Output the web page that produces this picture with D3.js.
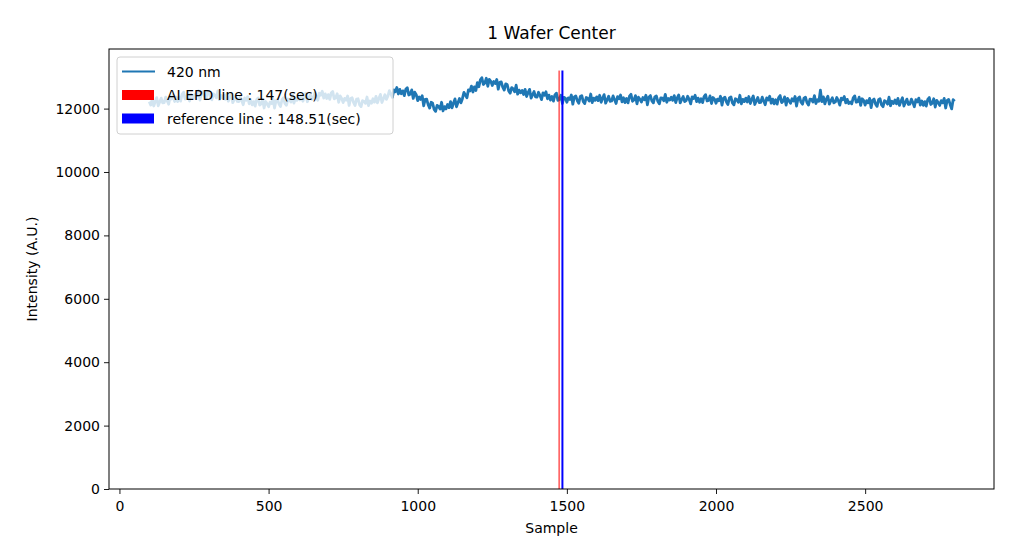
<!DOCTYPE html>
<html lang="en-US">
<head>
<meta charset="utf-8">
<style>
  body { margin: 0; background: #fff; }
  svg text { font-family: "DejaVu Sans", sans-serif; fill: #000; }
</style>
</head>
<body>
<div id="chart"></div>
<script src="https://cdnjs.cloudflare.com/ajax/libs/d3/7.8.5/d3.min.js"></script>
<script>
// intensity at 420 nm, one reading every 5 samples from sample 100 (10 readings per row)
var firstSample = 100;
var sampleStep = 5;
var intensity = [
  12220, 12111, 12292, 12083, 12224, 12346, 12087, 12208, 12329, 12180,
  12190, 12359, 12248, 12137, 12366, 12304, 12433, 12222, 12361, 12220,
  12370, 12236, 12451, 12517, 12302, 12348, 12493, 12239, 12454, 12390,
  12320, 12462, 12414, 12557, 12269, 12501, 12533, 12386, 12308, 12520,
  12540, 12344, 12279, 12463, 12428, 12342, 12557, 12281, 12416, 12340,
  12420, 12294, 12459, 12233, 12358, 12462, 12187, 12291, 12396, 12230,
  12220, 12374, 12249, 12123, 12338, 12262, 12377, 12151, 12276, 12120,
  12220, 12076, 12281, 12337, 12112, 12148, 12283, 12019, 12224, 12150,
  12060, 12204, 12159, 12303, 12018, 12252, 12287, 12141, 12066, 12280,
  12340, 12158, 12106, 12303, 12281, 12209, 12437, 12174, 12322, 12260,
  12390, 12274, 12449, 12233, 12368, 12482, 12217, 12331, 12446, 12290,
  12330, 12494, 12379, 12263, 12488, 12422, 12547, 12331, 12466, 12320,
  12440, 12290, 12490, 12540, 12310, 12340, 12470, 12200, 12400, 12320,
  12190, 12322, 12264, 12397, 12099, 12321, 12343, 12186, 12098, 12300,
  12310, 12121, 12062, 12253, 12224, 12165, 12366, 12097, 12239, 12170,
  12310, 12203, 12387, 12180, 12323, 12447, 12190, 12313, 12437, 12290,
  12390, 12564, 12459, 12353, 12588, 12532, 12667, 12461, 12606, 12470,
  12560, 12410, 12610, 12660, 12430, 12460, 12590, 12320, 12520, 12440,
  12250, 12364, 12289, 12403, 12088, 12292, 12297, 12121, 12016, 12200,
  12170, 11977, 11913, 12100, 12067, 11983, 12200, 11927, 12063, 11990,
  12130, 12031, 12222, 12023, 12174, 12306, 12057, 12188, 12319, 12180,
  12320, 12513, 12427, 12340, 12593, 12557, 12710, 12523, 12687, 12570,
  12820, 12688, 12906, 12973, 12761, 12809, 12957, 12704, 12922, 12860,
  12730, 12856, 12791, 12917, 12612, 12828, 12843, 12679, 12584, 12780,
  12760, 12558, 12486, 12663, 12621, 12529, 12737, 12454, 12582, 12500,
  12570, 12443, 12607, 12380, 12503, 12607, 12330, 12433, 12537, 12370,
  12360, 12516, 12411, 12283, 12496, 12418, 12531, 12309, 12424, 12270,
  12380, 12236, 12431, 12487, 12258, 12294, 12421, 12160, 12356, 12330,
  12200, 12340, 12290, 12430, 12140, 12370, 12400, 12250, 12170, 12380,
  12410, 12220, 12160, 12350, 12320, 12240, 12460, 12190, 12330, 12260,
  12370, 12250, 12420, 12200, 12330, 12440, 12170, 12280, 12390, 12230,
  12240, 12400, 12280, 12160, 12380, 12310, 12430, 12210, 12340, 12190,
  12320, 12180, 12390, 12450, 12230, 12270, 12410, 12150, 12360, 12290,
  12210, 12350, 12280, 12420, 12120, 12360, 12410, 12240, 12180, 12370,
  12400, 12230, 12150, 12340, 12330, 12250, 12450, 12200, 12320, 12270,
  12360, 12260, 12410, 12190, 12340, 12430, 12180, 12290, 12380, 12220,
  12250, 12390, 12290, 12150, 12370, 12320, 12420, 12220, 12330, 12200,
  12310, 12190, 12380, 12440, 12240, 12260, 12400, 12160, 12350, 12300,
  12170, 12300, 12250, 12390, 12110, 12330, 12360, 12210, 12130, 12340,
  12370, 12180, 12120, 12310, 12280, 12200, 12420, 12150, 12290, 12220,
  12330, 12210, 12380, 12160, 12290, 12400, 12130, 12240, 12350, 12190,
  12200, 12360, 12240, 12120, 12340, 12270, 12390, 12170, 12300, 12150,
  12280, 12140, 12350, 12410, 12190, 12230, 12370, 12110, 12320, 12250,
  12170, 12310, 12240, 12380, 12080, 12320, 12370, 12200, 12140, 12330,
  12360, 12190, 12110, 12300, 12290, 12210, 12410, 12160, 12280, 12230,
  12580, 12220, 12370, 12150, 12300, 12390, 12140, 12250, 12340, 12180,
  12210, 12350, 12250, 12110, 12330, 12280, 12380, 12180, 12290, 12160,
  12210, 12150, 12340, 12400, 12200, 12220, 12360, 12100, 12310, 12260,
  12110, 12250, 12180, 12320, 12030, 12260, 12300, 12140, 12070, 12280,
  12310, 12120, 12060, 12250, 12220, 12140, 12360, 12090, 12230, 12160,
  12270, 12150, 12320, 12100, 12230, 12340, 12080, 12190, 12300, 12130,
  12140, 12300, 12190, 12060, 12280, 12210, 12330, 12110, 12240, 12100,
  12220, 12080, 12290, 12350, 12130, 12170, 12310, 12050, 12260, 12190,
  12100, 12250, 12180, 12320, 12020, 12260, 12290, 12130, 11990, 12280,
  12230
];
var epdLine = { sample: 1474, top: 13200, label: "AI EPD line : 147(sec)", color: "#ff0000" };
var refLine = { sample: 1485.1, top: 13200, label: "reference line : 148.51(sec)", color: "#0000ff" };
var seriesLabel = "420 nm";
var xTicks = [0, 500, 1000, 1500, 2000, 2500];
var yTicks = [0, 2000, 4000, 6000, 8000, 10000, 12000];

var W = 1017, H = 551;
var pLeft = 109, pRight = 994, pTop = 49, pBottom = 489;

var svg = d3.select("#chart").append("svg").attr("width", W).attr("height", H);

var x = d3.scaleLinear().domain([-35, 2932]).range([pLeft, pRight]);
var y = d3.scaleLinear().domain([0, 13880]).range([pBottom, pTop]);

var points = intensity.map(function (v, i) { return [firstSample + i * sampleStep, v]; });

var plot = svg.append("g");
plot.append("path")
  .datum(points)
  .attr("d", d3.line().x(function (d) { return x(d[0]); }).y(function (d) { return y(d[1]); }))
  .attr("fill", "none")
  .attr("stroke", "#1f77b4")
  .attr("stroke-width", 2.8)
  .attr("stroke-linejoin", "round");

plot.append("line")
  .attr("x1", x(epdLine.sample)).attr("x2", x(epdLine.sample))
  .attr("y1", y(0)).attr("y2", y(epdLine.top))
  .attr("stroke", epdLine.color).attr("stroke-width", 1);
plot.append("line")
  .attr("x1", x(refLine.sample)).attr("x2", x(refLine.sample))
  .attr("y1", y(0)).attr("y2", y(refLine.top))
  .attr("stroke", refLine.color).attr("stroke-width", 2);

// axes
var xAxis = svg.append("g").attr("transform", "translate(0," + pBottom + ")")
  .call(d3.axisBottom(x).tickValues(xTicks).tickSize(5).tickPadding(4).tickFormat(d3.format("d")));
var yAxis = svg.append("g").attr("transform", "translate(" + pLeft + ",0)")
  .call(d3.axisLeft(y).tickValues(yTicks).tickSize(5).tickPadding(4).tickFormat(d3.format("d")));
[xAxis, yAxis].forEach(function (g) {
  g.select(".domain").remove();
  g.selectAll("text").style("font-size", "14px").attr("fill", "#000");
  g.selectAll("line").attr("stroke", "#000").attr("stroke-width", 0.9);
});
xAxis.selectAll("text").attr("dy", "0.9em");

svg.append("rect")
  .attr("x", pLeft).attr("y", pTop)
  .attr("width", pRight - pLeft).attr("height", pBottom - pTop)
  .attr("fill", "none").attr("stroke", "#000").attr("stroke-width", 1);

// labels
svg.append("text").attr("x", (pLeft + pRight) / 2).attr("y", 39)
  .attr("text-anchor", "middle").style("font-size", "17px").text("1 Wafer Center");
svg.append("text").attr("x", (pLeft + pRight) / 2).attr("y", 533)
  .attr("text-anchor", "middle").style("font-size", "14px").text("Sample");
svg.append("text").attr("transform", "translate(37," + ((pTop + pBottom) / 2) + ") rotate(-90)")
  .attr("text-anchor", "middle").style("font-size", "14px").text("Intensity (A.U.)");

// legend
var legend = svg.append("g");
legend.append("rect")
  .attr("x", 117).attr("y", 57).attr("width", 276).attr("height", 77)
  .attr("rx", 3)
  .attr("fill", "#fff").attr("fill-opacity", 0.8)
  .attr("stroke", "#d0d0d0").attr("stroke-width", 1);
var items = [
  { kind: "line", color: "#1f77b4", label: seriesLabel },
  { kind: "patch", color: epdLine.color, label: epdLine.label },
  { kind: "patch", color: refLine.color, label: refLine.label }
];
items.forEach(function (it, i) {
  var cy = 71.5 + i * 23.5;
  if (it.kind === "line") {
    legend.append("line").attr("x1", 122).attr("x2", 155).attr("y1", cy).attr("y2", cy)
      .attr("stroke", it.color).attr("stroke-width", 1.8);
  } else {
    legend.append("rect").attr("x", 122).attr("y", cy - 5).attr("width", 32).attr("height", 10)
      .attr("fill", it.color);
  }
  legend.append("text").attr("x", 167).attr("y", cy + 5).style("font-size", "14px").text(it.label);
});
</script>
</body>
</html>
